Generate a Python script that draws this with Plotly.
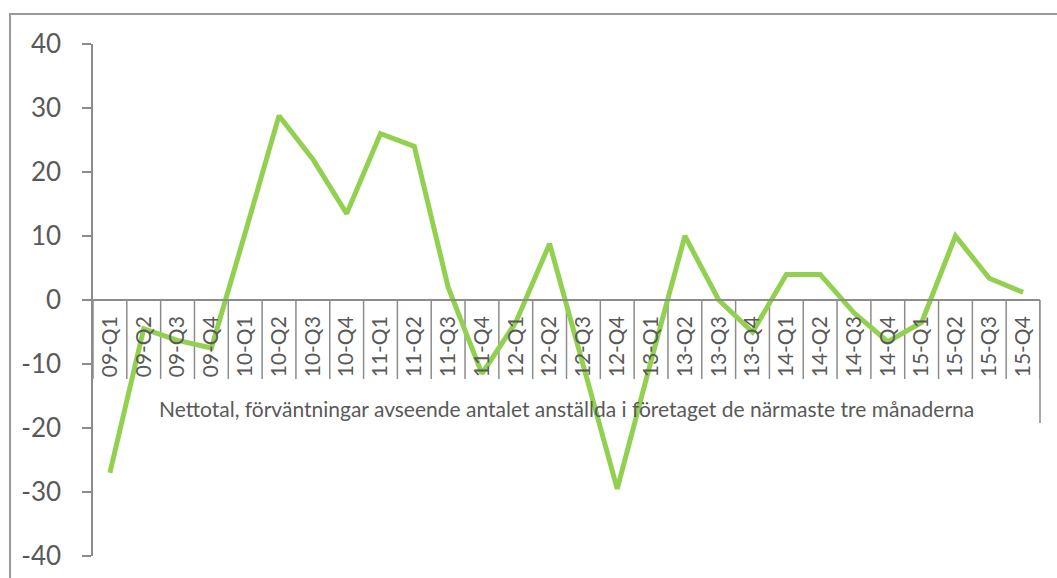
import plotly.graph_objects as go

quarters = ["09-Q1","09-Q2","09-Q3","09-Q4",
            "10-Q1","10-Q2","10-Q3","10-Q4",
            "11-Q1","11-Q2","11-Q3","11-Q4",
            "12-Q1","12-Q2","12-Q3","12-Q4",
            "13-Q1","13-Q2","13-Q3","13-Q4",
            "14-Q1","14-Q2","14-Q3","14-Q4",
            "15-Q1","15-Q2","15-Q3","15-Q4"]
nettotal = [-27, -4.5, -6.3, -7.5,
            10.5, 28.8, 22, 13.5,
            26, 24, 2, -11.5,
            -3.5, 8.8, -10.3, -29.5,
            -9.5, 10, 0, -5,
            4, 4, -2, -6.5,
            -3.5, 10, 3.4, 1.2]
series_title = "Nettotal, förväntningar avseende antalet anställda i företaget de närmaste tre månaderna"
y_ticks = [-40, -30, -20, -10, 0, 10, 20, 30, 40]
y_ticktext = [str(v) for v in y_ticks]

FONT = "Lato"
TXT = "#595959"
AX = "#8c8c8c"

# pixel geometry of the plot area (top 44, bottom 556)
PLOT_H = 512
div_bottom = (556 - 379) / PLOT_H
box_bottom = (556 - 423) / PLOT_H

fig = go.Figure()
fig.add_trace(go.Scatter(
    x=quarters, y=nettotal, mode="lines",
    line=dict(color="#92D050", width=5),
    showlegend=False, hoverinfo="x+y",
))

shapes = [
    # outer chart frame
    dict(type="rect", xref="paper", yref="paper",
         x0=-83/947, x1=1.1, y0=-0.2, y1=1 + 30/PLOT_H,
         line=dict(color="#9a9a9a", width=2), layer="below"),
    # right edge of category label box
    dict(type="line", xref="paper", yref="paper",
         x0=1, x1=1, y0=0.5, y1=box_bottom,
         line=dict(color=AX, width=1.5)),
]
# category dividers below the x axis line
for i in range(len(quarters) + 1):
    shapes.append(dict(type="line", xref="x", yref="paper",
                       x0=i - 0.5, x1=i - 0.5, y0=0.5, y1=div_bottom,
                       line=dict(color=AX, width=1.5), layer="below"))

fig.update_layout(
    width=1057, height=578,
    margin=dict(l=93, r=17, t=44, b=22),
    paper_bgcolor="white", plot_bgcolor="white",
    font=dict(family=FONT, color=TXT),
    xaxis=dict(
        type="category", range=[-0.5, len(quarters) - 0.5],
        anchor="free", position=0.5, automargin=False,
        showline=True, linecolor=AX, linewidth=1.5,
        ticks="",
        tickangle=-90, tickfont=dict(size=21, color=TXT, family=FONT),
        ticklabelstandoff=7,
        showgrid=False, zeroline=False,
    ),
    yaxis=dict(
        range=[-40, 40], tickvals=y_ticks, ticktext=y_ticktext,
        automargin=False,
        showline=True, linecolor=AX, linewidth=1.5,
        ticks="outside", ticklen=9, tickcolor=AX, tickwidth=1.5,
        tickfont=dict(size=26, color=TXT, family=FONT),
        ticklabelstandoff=16,
        showgrid=False, zeroline=False,
    ),
    shapes=shapes,
    annotations=[
        dict(text=series_title, xref="paper", yref="paper",
             x=0.5, y=(556 - 408) / PLOT_H, showarrow=False,
             xanchor="center", yanchor="middle",
             font=dict(size=21, color=TXT, family=FONT)),
    ],
)

fig.write_html("out.html",
               config={"displayModeBar": False},
               post_script="document.body.style.margin='0';document.body.style.overflow='hidden';")
